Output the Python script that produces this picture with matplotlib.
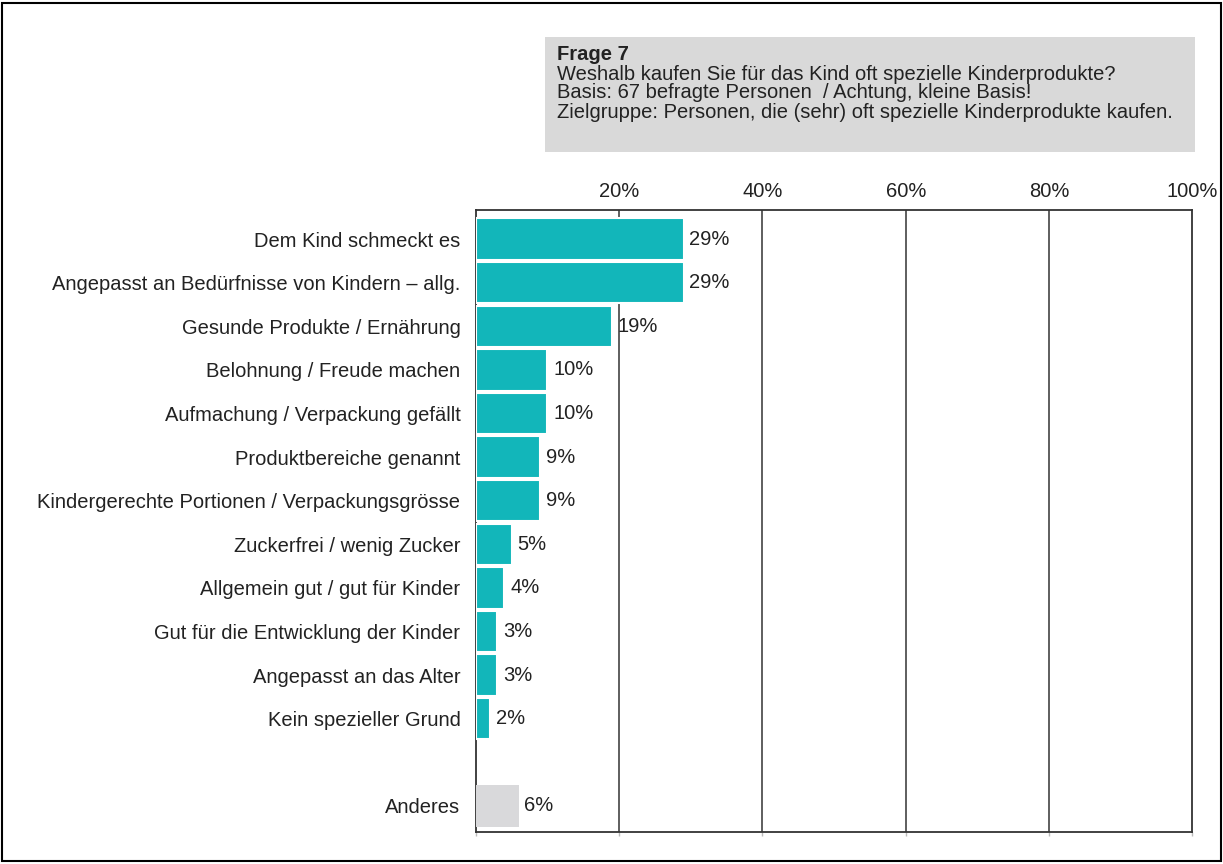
import matplotlib.pyplot as plt
from matplotlib.patches import Rectangle

plt.rcParams['font.family'] = ['Liberation Sans', 'DejaVu Sans']

# Antworten und Anteile in %
gruende = [
    'Dem Kind schmeckt es',
    'Angepasst an Bedürfnisse von Kindern – allg.',
    'Gesunde Produkte / Ernährung',
    'Belohnung / Freude machen',
    'Aufmachung / Verpackung gefällt',
    'Produktbereiche genannt',
    'Kindergerechte Portionen / Verpackungsgrösse',
    'Zuckerfrei / wenig Zucker',
    'Allgemein gut / gut für Kinder',
    'Gut für die Entwicklung der Kinder',
    'Angepasst an das Alter',
    'Kein spezieller Grund',
]
anteile = [29, 29, 19, 10, 10, 9, 9, 5, 4, 3, 3, 2]
anderes_label = 'Anderes'
anderes_wert = 6

ticks = [0, 20, 40, 60, 80, 100]
tick_labels = ['', '20%', '40%', '60%', '80%', '100%']

titel_zeilen = [
    'Weshalb kaufen Sie für das Kind oft spezielle Kinderprodukte?',
    'Basis: 67 befragte Personen  / Achtung, kleine Basis!',
    'Zielgruppe: Personen, die (sehr) oft spezielle Kinderprodukte kaufen.',
]

TEAL = '#12B6BA'
GRAU = '#D9D9DB'
TXT = '#222222'
FS = 14.5

fig = plt.figure(figsize=(12.23, 8.64), dpi=100)
ax = fig.add_axes([0.389, 0.037, 0.586, 0.72])

pos = list(range(len(gruende)))
pos_anderes = len(gruende) + 1

ax.barh(pos, anteile, height=0.95, color=TEAL, edgecolor='white', linewidth=1.5, zorder=3)
ax.barh(pos_anderes, anderes_wert, height=0.95, color=GRAU, edgecolor='none', zorder=3)

for y, v in zip(pos, anteile):
    ax.text(v + 0.8, y, f'{v}%', va='center', ha='left', fontsize=FS, color=TXT, zorder=4)
ax.text(anderes_wert + 0.8, pos_anderes, f'{anderes_wert}%', va='center', ha='left',
        fontsize=FS, color=TXT, zorder=4)

ax.set_xlim(0, 100)
ax.set_ylim(pos_anderes + 0.6, -0.67)

ax.set_yticks(pos + [pos_anderes])
ax.set_yticklabels(gruende + [anderes_label], fontsize=FS, color=TXT)
ax.tick_params(axis='y', length=0, pad=11)

# Prozentbeschriftung oben, kleine Striche unten
ax.set_xticks(ticks)
ax.set_xticklabels(tick_labels, fontsize=FS, color=TXT)
ax.tick_params(axis='x', top=False, labeltop=True, bottom=True, labelbottom=False,
               length=3, color='#BBBBBB', width=1, pad=3.5)

# vertikale Gitterlinien
for t in ticks[1:-1]:
    ax.axvline(t, color='#333333', linewidth=1.1, zorder=2)
for s in ax.spines.values():
    s.set_color('#333333')
    s.set_linewidth(1.3)

# Fragebox oben
box = Rectangle((545 / 1223, 1 - 152 / 864), 650 / 1223, 115 / 864,
                transform=fig.transFigure, facecolor='#D9D9D9', edgecolor='none')
fig.patches.append(box)
fig.text(557 / 1223, 1 - 55 / 864, 'Frage 7', fontsize=FS, fontweight='bold',
         color=TXT, va='center')
for i, zeile in enumerate(titel_zeilen):
    fig.text(557 / 1223, 1 - (74 + 19 * i) / 864, zeile, fontsize=FS,
             color=TXT, va='center')

# Rahmen um die ganze Grafik
rahmen = Rectangle((0.002, 0.003), 0.996, 0.994, transform=fig.transFigure,
                   facecolor='none', edgecolor='black', linewidth=1.5)
fig.patches.append(rahmen)

fig.savefig('out.png', dpi=100)
